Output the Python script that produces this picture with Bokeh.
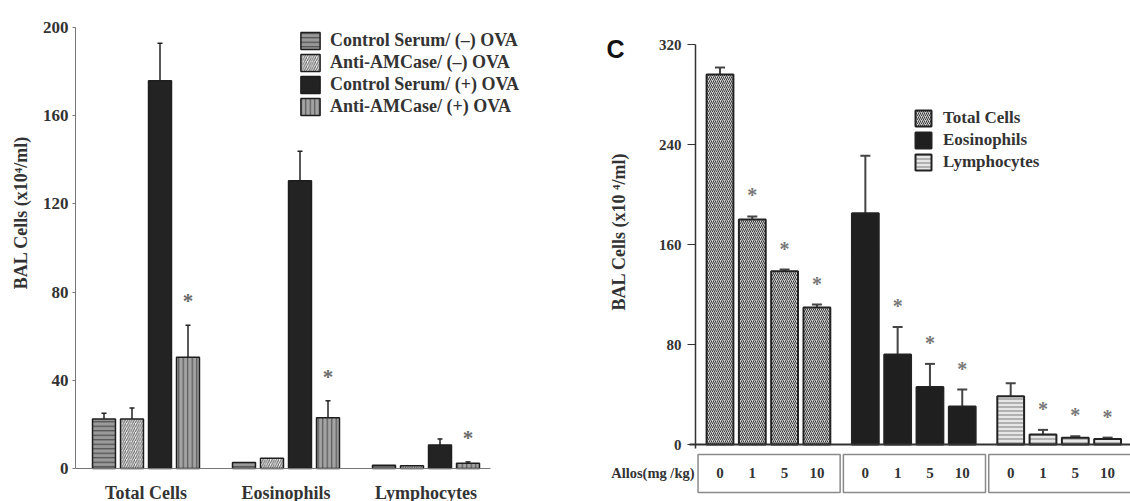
import math
from bokeh.plotting import figure
from bokeh.models import (ColumnDataSource, Whisker, TeeHead, FixedTicker, Label,
                          LinearAxis, Range1d)
from bokeh.layouts import row
from bokeh.embed import file_html
from bokeh.resources import INLINE
from bokeh.core.properties import value

SERIF = "Liberation Serif"

# ---------------- Panel B data ----------------
left_categories = ["Total Cells", "Eosinophils", "Lymphocytes"]
left_series = ["Control Serum/ (–) OVA", "Anti-AMCase/ (–) OVA",
               "Control Serum/ (+) OVA", "Anti-AMCase/ (+) OVA"]
ctrl_neg = [22.4, 2.7, 1.5]
anti_neg = [22.4, 4.7, 1.2]
ctrl_pos = [175.8, 130.5, 10.7]
anti_pos = [50.5, 23.0, 2.4]
ctrl_neg_err = [2.7, 0.0, 0.0]
anti_neg_err = [5.0, 0.0, 0.0]
ctrl_pos_err = [17.1, 13.4, 2.7]
anti_pos_err = [14.5, 7.7, 0.6]
left_sig = [[False] * 3, [False] * 3, [False] * 3, [True, True, True]]
left_yticks = [0, 40, 80, 120, 160, 200]

# ---------------- Panel C data ----------------
doses = ["0", "1", "5", "10"]
right_series = ["Total Cells", "Eosinophils", "Lymphocytes"]
total_cells = [296.0, 180.0, 138.7, 109.6]
total_err = [5.6, 2.5, 1.3, 2.4]
eosinophils = [185.0, 72.0, 46.0, 30.4]
eos_err = [46.0, 22.0, 18.5, 13.6]
lymphocytes = [38.7, 8.0, 5.4, 4.5]
lym_err = [10.3, 3.7, 1.2, 1.0]
dose_sig = [False, True, True, True]
right_yticks = [0, 80, 160, 240, 320]
dose_axis_label = "Allos(mg /kg)"
panel_letter = "C"

W_L, W_R, H = 560, 570, 501


def base_fig(w, xr, yr):
    p = figure(width=w, height=H, output_backend="svg", toolbar_location=None,
               x_range=xr, y_range=yr, x_axis_location=None, y_axis_location=None,
               min_border_left=0, min_border_right=0, min_border_top=0,
               min_border_bottom=0)
    p.outline_line_color = None
    p.xgrid.visible = False
    p.ygrid.visible = False
    return p


def style_axis(ax, color, width, size):
    ax.axis_line_color = color
    ax.axis_line_width = width
    ax.major_tick_line_color = color
    ax.minor_tick_out = 0
    ax.minor_tick_in = 0
    ax.major_tick_in = 0
    ax.major_label_text_font = SERIF
    ax.major_label_text_font_style = "bold"
    ax.major_label_text_font_size = size
    ax.major_label_text_color = "#333333"


# ======================= LEFT PANEL =======================
L_GROUP = 5
L_SLOT = 28.0          # px per bar slot
L_X0 = 103.5           # px of first bar centre
L_UNIT = 2.205         # px per y unit
L_Y0 = 468.0           # px (from top) of y = 0
lx0 = -L_X0 / L_SLOT
pL = base_fig(W_L, Range1d(lx0, lx0 + W_L / L_SLOT),
              Range1d(-(H - L_Y0) / L_UNIT, L_Y0 / L_UNIT))

left_vals = [ctrl_neg, anti_neg, ctrl_pos, anti_pos]
left_errs = [ctrl_neg_err, anti_neg_err, ctrl_pos_err, anti_pos_err]
left_styles = [
    dict(fill_color="#9a9a9a", hatch_pattern="horizontal_line", hatch_color="#505050",
         hatch_scale=4.5, hatch_weight=1.3),
    dict(fill_color="#f4f4f4", hatch_pattern="right_diagonal_line", hatch_color="#666666",
         hatch_scale=4.5, hatch_weight=1.1),
    dict(fill_color="#232323"),
    dict(fill_color="#a4a4a4", hatch_pattern="vertical_line", hatch_color="#5a5a5a",
         hatch_scale=4.5, hatch_weight=1.3),
]
for i, (name, vals, errs, st) in enumerate(zip(left_series, left_vals, left_errs, left_styles)):
    xs = [g * L_GROUP + i for g in range(len(left_categories))]
    src = ColumnDataSource(dict(x=xs, top=vals))
    pL.vbar(x="x", top="top", bottom=0, width=0.82, source=src,
            line_color="#1e1e1e", line_width=1.5, legend_label=name, **st)
    keep = [k for k, e in enumerate(errs) if e > 0]
    wsrc = ColumnDataSource(dict(x=[xs[k] for k in keep], lower=[vals[k] for k in keep],
                                 upper=[vals[k] + errs[k] for k in keep]))
    pL.add_layout(Whisker(source=wsrc, base="x", lower="lower", upper="upper",
                          line_color="#222222", line_width=1.5,
                          upper_head=TeeHead(size=5, line_color="#222222", line_width=1.5),
                          lower_head=None))
    sx = [x for x, s in zip(xs, left_sig[i]) if s]
    sy = [v + e for v, e, s in zip(vals, errs, left_sig[i]) if s]
    if sx:
        pL.text(x=sx, y=sy, text=["*"] * len(sx), y_offset=-24, text_align="center",
                text_baseline="alphabetic", text_font=value(SERIF),
                text_font_style="bold", text_font_size="21px", text_color="#6a6a6a")

l_axis_x = lx0 + 75 / L_SLOT  # y axis at px 75
ly = LinearAxis(fixed_location=l_axis_x, ticker=FixedTicker(ticks=left_yticks),
                bounds=(0, 200), major_tick_out=3, major_label_standoff=4)
style_axis(ly, "#777777", 1, "17px")
pL.add_layout(ly, "left")

centers = [g * L_GROUP + 1.5 for g in range(len(left_categories))]
lxax = LinearAxis(fixed_location=0, ticker=FixedTicker(ticks=centers),
                  major_label_overrides={c: n for c, n in zip(centers, left_categories)},
                  bounds=(l_axis_x, 13.8), major_tick_out=0, major_label_standoff=14)
style_axis(lxax, "#777777", 1, "18px")
pL.add_layout(lxax, "below")

pL.add_layout(Label(x=lx0 + 20 / L_SLOT, y=(L_Y0 - 212) / L_UNIT,
                    text="BAL Cells (x10⁴/ml)", angle=math.pi / 2,
                    text_align="center", text_baseline="middle", text_font=SERIF,
                    text_font_style="bold", text_font_size="18px", text_color="#333333"))

lg = pL.legend[0]
lg.location = (298, H - 29 - 88)
lg.background_fill_alpha = 0
lg.border_line_alpha = 0
lg.padding = 0
lg.margin = 0
lg.glyph_width = 24
lg.glyph_height = 21
lg.label_height = 21
lg.spacing = 1
lg.label_standoff = 8
lg.label_text_font = SERIF
lg.label_text_font_style = "bold"
lg.label_text_font_size = "18px"
lg.label_text_color = "#333333"

# ======================= RIGHT PANEL =======================
R_SLOT = 32.3
R_X0 = 159.5
R_UNIT = 1.25
R_Y0 = 444.0
rx0 = -R_X0 / R_SLOT
group_start = [0.0, 4.5, 9.0]
pR = base_fig(W_R, Range1d(rx0, rx0 + W_R / R_SLOT),
              Range1d(-(H - R_Y0) / R_UNIT, R_Y0 / R_UNIT))

right_vals = [total_cells, eosinophils, lymphocytes]
right_errs = [total_err, eos_err, lym_err]
right_styles = [
    dict(fill_color="#d0d0d0", hatch_pattern="right_diagonal_line", hatch_color="#3c3c3c",
         hatch_scale=4, hatch_weight=1.0),
    dict(fill_color="#1f1f1f"),
    dict(fill_color="#e6e6e6", hatch_pattern="horizontal_line", hatch_color="#8c8c8c",
         hatch_scale=4, hatch_weight=1.2),
]
for g, (name, vals, errs, st) in enumerate(zip(right_series, right_vals, right_errs, right_styles)):
    xs = [group_start[g] + d for d in range(len(doses))]
    src = ColumnDataSource(dict(x=xs, top=vals))
    pR.vbar(x="x", top="top", bottom=0, width=0.83, source=src,
            line_color="#222222", line_width=2, legend_label=name, **st)
    wsrc = ColumnDataSource(dict(x=xs, lower=vals, upper=[v + e for v, e in zip(vals, errs)]))
    pR.add_layout(Whisker(source=wsrc, base="x", lower="lower", upper="upper",
                          line_color="#444444", line_width=2,
                          upper_head=TeeHead(size=10, line_color="#444444", line_width=2),
                          lower_head=None))
    sx = [x for x, s in zip(xs, dose_sig) if s]
    sy = [v + e for v, e, s in zip(vals, errs, dose_sig) if s]
    pR.text(x=sx, y=sy, text=["*"] * len(sx), y_offset=-21, text_align="center",
            text_baseline="alphabetic", text_font=value(SERIF), text_font_style="bold",
            text_font_size="20px", text_color="#777777")
    # dose label box
    pR.quad(left=[group_start[g] - 0.68], right=[group_start[g] + 3.72],
            bottom=[-38.4], top=[-8.0], fill_color=None, line_color="#8a8a8a", line_width=1.5)
    pR.text(x=xs, y=[-22.4] * len(xs), text=doses, text_align="center",
            text_baseline="middle", text_font=value(SERIF), text_font_style="bold",
            text_font_size="15px", text_color="#333333")

r_axis_x = rx0 + 135 / R_SLOT
ry = LinearAxis(fixed_location=r_axis_x, ticker=FixedTicker(ticks=right_yticks),
                bounds=(-3, 320), major_tick_out=8, major_label_standoff=6)
style_axis(ry, "#333333", 1.5, "15px")
pR.add_layout(ry, "left")

rxax = LinearAxis(fixed_location=0, ticker=FixedTicker(ticks=[]),
                  bounds=(r_axis_x - 0.2, rx0 + W_R / R_SLOT),
                  major_tick_out=0)
style_axis(rxax, "#333333", 2, "13px")
pR.add_layout(rxax, "below")

pR.add_layout(Label(x=rx0 + 58 / R_SLOT, y=(R_Y0 - 231) / R_UNIT,
                    text="BAL Cells (x10 ⁴/ml)", angle=math.pi / 2,
                    text_align="center", text_baseline="middle", text_font=SERIF,
                    text_font_style="bold", text_font_size="18px", text_color="#333333"))
pR.add_layout(Label(x=r_axis_x - 0.03, y=-22.4, text=dose_axis_label, text_align="right",
                    text_baseline="middle", text_font=SERIF, text_font_style="bold",
                    text_font_size="14.5px", text_color="#333333"))
pR.add_layout(Label(x=rx0 + 46 / R_SLOT, y=(R_Y0 - 48) / R_UNIT, text=panel_letter,
                    text_align="left", text_baseline="alphabetic",
                    text_font="Liberation Sans", text_font_style="bold",
                    text_font_size="25px", text_color="#111111"))

lg = pR.legend[0]
lg.location = (353, H - 108 - 64)
lg.background_fill_alpha = 0
lg.border_line_alpha = 0
lg.padding = 0
lg.margin = 0
lg.glyph_width = 20
lg.glyph_height = 20
lg.label_height = 20
lg.spacing = 2
lg.label_standoff = 10
lg.label_text_font = SERIF
lg.label_text_font_style = "bold"
lg.label_text_font_size = "17px"
lg.label_text_color = "#333333"

layout = row(pL, pR)
open("out.html", "w").write(file_html(layout, INLINE))
